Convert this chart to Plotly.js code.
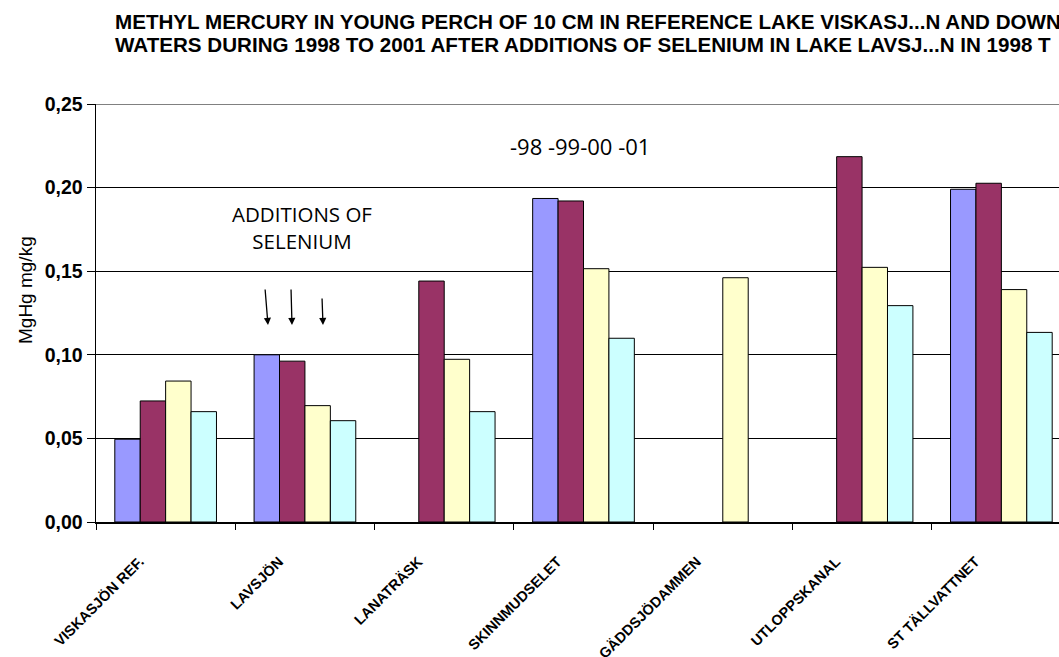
<!DOCTYPE html>
<html>
<head>
<meta charset="utf-8">
<script src="https://cdn.plot.ly/plotly-3.0.1.min.js"></script>
<style>
html, body { margin: 0; padding: 0; overflow: hidden; background: #fff; }
#chart { width: 1100px; height: 657px; }
</style>
</head>
<body>
<div id="chart"></div>
<script>
// ---- data ----
const categories = ["VISKASJÖN REF.", "LAVSJÖN", "LANATRÄSK", "SKINNMUDSELET", "GÄDDSJÖDAMMEN", "UTLOPPSKANAL", "ST TÄLLVATTNET"];
const seriesNames = ["1998", "1999", "2000", "2001"];
const v1998 = [0.0495, 0.100, null, 0.1935, null, null, 0.199];
const v1999 = [0.0724, 0.0962, 0.1441, 0.192, null, 0.2185, 0.2026];
const v2000 = [0.0843, 0.0696, 0.0973, 0.1515, 0.1461, 0.1523, 0.139];
const v2001 = [0.066, 0.0606, 0.066, 0.1099, null, 0.1294, 0.1134];
const yTickVals = [0, 0.05, 0.10, 0.15, 0.20, 0.25];
const yTickText = ["0,00", "0,05", "0,10", "0,15", "0,20", "0,25"];
const titleLine1 = "METHYL MERCURY IN YOUNG PERCH OF 10 CM IN REFERENCE LAKE VISKASJ...N AND DOWN";
const titleLine2 = "WATERS DURING 1998 TO 2001 AFTER ADDITIONS OF SELENIUM IN LAKE LAVSJ...N IN 1998 T";

const colors = ["#9999FF", "#993366", "#FFFFCC", "#CCFFFF"];
const values = [v1998, v1999, v2000, v2001];

const traces = values.map((v, i) => ({
  type: "bar",
  name: seriesNames[i],
  x: categories,
  y: v,
  marker: { color: colors[i], line: { color: "#000", width: 1 } },
  hoverinfo: "skip"
}));

// pixel helpers for the plot area (l=96, width 975, t=104, height 418)
const PL = 96, PW = 975, PT = 104, PH = 418;
const px = x => (x - PL) / PW;
const py = y => (PT + PH - y) / PH;

const arrows = [[268, 325, -3, -37], [292, 325, -1, -37], [323, 325, -1, -28]].map(a => ({
  xref: "paper", yref: "paper", x: px(a[0]), y: py(a[1]),
  ax: a[2], ay: a[3], showarrow: true, arrowhead: 2, arrowsize: 1.1, arrowwidth: 1.3,
  arrowcolor: "#000", text: ""
}));

const titleFont = { family: "Liberation Sans, Arial, sans-serif", size: 20.6, color: "#000", weight: "bold" };

const layout = {
  width: 1100, height: 657,
  margin: { l: PL, r: 1100 - PL - PW, t: PT, b: 657 - PT - PH },
  paper_bgcolor: "#fff", plot_bgcolor: "#fff",
  showlegend: false,
  barmode: "group", bargap: 0.27, bargroupgap: 0,
  font: { family: "Liberation Sans, Arial, sans-serif", color: "#000" },
  xaxis: {
    type: "category",
    tickson: "boundaries",
    ticks: "outside", ticklen: 6, tickcolor: "#000", tickwidth: 1,
    showline: true, linecolor: "#000", linewidth: 1.5,
    showgrid: false,
    tickangle: -45,
    ticklabelshift: -26,
    ticklabelstandoff: 24,
    tickfont: { family: "Liberation Sans, Arial, sans-serif", size: 14.5, color: "#000", weight: "bold" },
    range: [-0.5, 6.5]
  },
  yaxis: {
    range: [0, 0.25],
    tickvals: yTickVals, ticktext: yTickText,
    ticks: "outside", ticklen: 8, tickcolor: "#000", tickwidth: 1,
    showline: true, linecolor: "#000", linewidth: 1.5,
    showgrid: true, gridcolor: "#000", gridwidth: 1,
    zeroline: false,
    tickfont: { family: "Liberation Sans, Arial, sans-serif", size: 19.5, color: "#000", weight: "bold" }
  },
  shapes: [
    { type: "line", xref: "paper", yref: "y", x0: 0, x1: 1, y0: 0.25, y1: 0.25, line: { color: "#808080", width: 2 }, layer: "above" }
  ],
  annotations: [
    { xref: "paper", yref: "paper", x: px(113), y: py(22), xanchor: "left", yanchor: "middle", showarrow: false, align: "left",
      text: titleLine1, font: titleFont },
    { xref: "paper", yref: "paper", x: px(113), y: py(45), xanchor: "left", yanchor: "middle", showarrow: false, align: "left",
      text: titleLine2, font: titleFont },
    { xref: "paper", yref: "paper", x: px(25), y: py(290), xanchor: "center", yanchor: "middle", showarrow: false,
      textangle: -90, text: "MgHg mg/kg",
      font: { family: "Liberation Sans, Arial, sans-serif", size: 19, color: "#000" } },
    { xref: "paper", yref: "paper", x: px(302), y: py(227), xanchor: "center", yanchor: "middle", showarrow: false,
      text: "ADDITIONS OF<br>SELENIUM",
      font: { family: "Open Sans, sans-serif", size: 20.5, color: "#000" } },
    { xref: "paper", yref: "paper", x: px(580), y: py(146), xanchor: "center", yanchor: "middle", showarrow: false,
      text: "-98 -99-00 -01",
      font: { family: "Open Sans, sans-serif", size: 22, color: "#000" } }
  ].concat(arrows)
};

Plotly.newPlot("chart", traces, layout, { staticPlot: true, displayModeBar: false });
</script>
</body>
</html>
